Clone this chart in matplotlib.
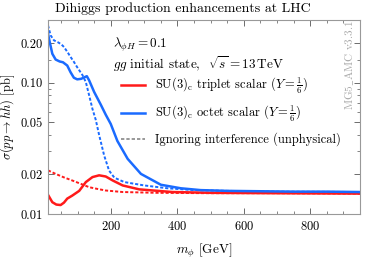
import matplotlib
matplotlib.use("Agg")
import matplotlib.pyplot as plt
from matplotlib.lines import Line2D
from matplotlib.ticker import FixedLocator, NullFormatter, MultipleLocator

plt.rcParams["font.family"] = "serif"
plt.rcParams["font.serif"] = ["cmr10"]
plt.rcParams["mathtext.fontset"] = "cm"
plt.rcParams["axes.formatter.use_mathtext"] = True

# --- data ------------------------------------------------------------------
m_octet = [10, 15, 23, 33, 45, 55, 68, 78, 88, 98, 110, 120, 127, 134, 149,
           169, 184, 199, 219, 250, 290, 350, 410, 470, 550, 650, 750, 850, 950]
xs_octet = [0.236, 0.205, 0.166, 0.150, 0.145, 0.143, 0.135, 0.120, 0.109,
            0.106, 0.107, 0.110, 0.112, 0.104, 0.085, 0.068, 0.057, 0.0485,
            0.036, 0.0263, 0.0202, 0.0167, 0.0157, 0.0152, 0.0150, 0.0149,
            0.0148, 0.0148, 0.0147]

m_octet_noint = [10, 18, 28, 40, 50, 58, 68, 78, 88, 98, 114, 124, 134, 144,
                 154, 164, 179, 194, 210, 240, 300, 370, 450, 550, 700, 950]
xs_octet_noint = [0.273, 0.229, 0.210, 0.203, 0.196, 0.187, 0.172, 0.157,
                  0.144, 0.131, 0.114, 0.101, 0.080, 0.063, 0.052, 0.040,
                  0.028, 0.0214, 0.0189, 0.0175, 0.0165, 0.0157, 0.0152,
                  0.0150, 0.0148, 0.0147]

m_triplet = [10, 23, 35, 48, 58, 68, 83, 104, 124, 144, 164, 184, 205, 235,
             285, 385, 500, 700, 950]
xs_triplet = [0.0140, 0.0123, 0.0118, 0.0117, 0.0122, 0.0131, 0.0138, 0.0150,
              0.0175, 0.0191, 0.0197, 0.0193, 0.0180, 0.0165, 0.0154, 0.0147,
              0.0145, 0.0144, 0.0143]

m_triplet_noint = [10, 33, 58, 83, 108, 134, 160, 184, 235, 335, 500, 700, 950]
xs_triplet_noint = [0.0215, 0.0202, 0.0190, 0.0180, 0.0170, 0.0160, 0.0155,
                    0.0151, 0.0147, 0.0145, 0.0144, 0.0144, 0.0143]

y_ticks = [0.01, 0.02, 0.05, 0.10, 0.20]
y_ticklabels = ["0.01", "0.02", "0.05", "0.10", "0.20"]
x_ticks = [200, 400, 600, 800]

RED = "#FF1A1A"
BLUE = "#1A6BFF"
DOT = (0, (1.6, 1.0))

fig = plt.figure(figsize=(3.65, 2.6), dpi=100)
ax = fig.add_axes([48 / 365, 46 / 260, 312 / 365, 194 / 260])

ax.plot(m_triplet_noint, xs_triplet_noint, color=RED, lw=1.4, ls=DOT)
ax.plot(m_octet_noint, xs_octet_noint, color=BLUE, lw=1.4, ls=DOT)
ax.plot(m_triplet, xs_triplet, color=RED, lw=1.8)
ax.plot(m_octet, xs_octet, color=BLUE, lw=1.8)

ax.set_yscale("log")
ax.set_xlim(10, 950)
ax.set_ylim(0.01, 0.30)
ax.yaxis.set_major_locator(FixedLocator(y_ticks))
ax.set_yticklabels(y_ticklabels)
ax.yaxis.set_minor_locator(FixedLocator(
    [0.03, 0.04, 0.06, 0.07, 0.08, 0.09, 0.15, 0.3]))
ax.yaxis.set_minor_formatter(NullFormatter())
ax.xaxis.set_major_locator(FixedLocator(x_ticks))
ax.xaxis.set_minor_locator(MultipleLocator(50))

ax.tick_params(which="both", direction="in", top=True, right=True,
               color="#555555", labelsize=9, pad=4)
ax.tick_params(which="major", length=4, width=0.6)
ax.tick_params(which="minor", length=2.5, width=0.5)
for sp in ax.spines.values():
    sp.set_color("#999999")
    sp.set_linewidth(0.8)

ax.set_xlabel(r"$m_\phi$ [GeV]", fontsize=9.5, labelpad=7)
ax.set_ylabel(r"$\sigma(pp \to hh)$ [pb]", fontsize=9, labelpad=2)
fig.suptitle("Dihiggs production enhancements at LHC", fontsize=10, y=0.99)

ax.text(0.208, 0.871, r"$\lambda_{\phi H} = 0.1$", transform=ax.transAxes,
        fontsize=9.5, va="center")
ax.text(0.208, 0.773, r"$gg$ initial state,  $\sqrt{s} = 13\,\mathrm{TeV}$",
        transform=ax.transAxes, fontsize=9.5, va="center")
ax.text(0.968, 0.77, r"$\mathrm{MG5\_AMC\ v3.3.1}$", transform=ax.transAxes,
        rotation=90, fontsize=8, color="#aaaaaa", ha="center", va="center")

handles = [
    Line2D([], [], color=RED, lw=1.8),
    Line2D([], [], color=BLUE, lw=1.8),
    Line2D([], [], color="#888888", lw=1.2, ls=(0, (2, 1.2))),
]
labels = [
    r"SU(3)$_{\mathrm{c}}$ triplet scalar ($Y=\frac{1}{6}$)",
    r"SU(3)$_{\mathrm{c}}$ octet scalar ($Y=\frac{1}{6}$)",
    "Ignoring interference (unphysical)",
]
ax.legend(handles, labels, loc="upper left", bbox_to_anchor=(0.235, 0.715),
          frameon=False, fontsize=9, handlelength=1.9, handletextpad=0.8,
          labelspacing=0.65, borderpad=0, borderaxespad=0)

fig.savefig("out.png", dpi=100)
